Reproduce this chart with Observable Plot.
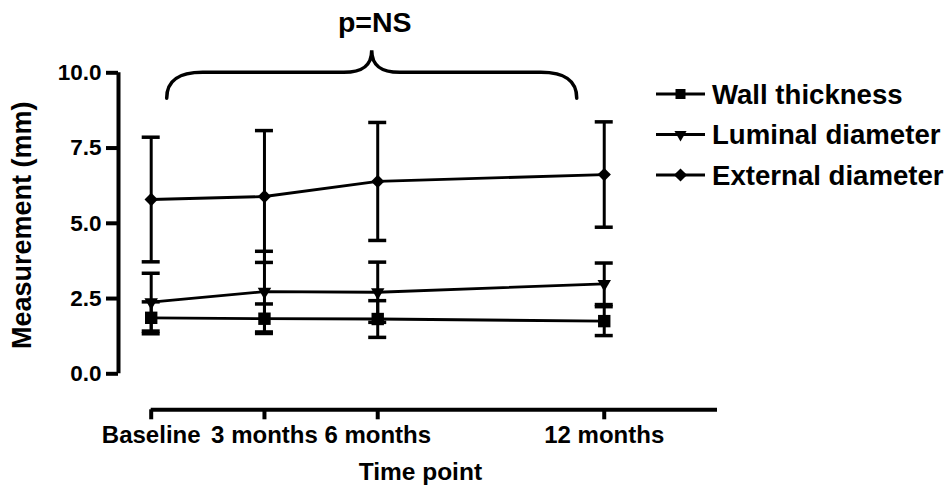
<!DOCTYPE html>
<html>
<head>
<meta charset="utf-8">
<script src="https://cdn.jsdelivr.net/npm/d3@7"></script>
<script src="https://cdn.jsdelivr.net/npm/@observablehq/plot@0.6"></script>
<style>
  html, body { margin: 0; padding: 0; background: #fff; }
  #chart { width: 948px; height: 497px; }
</style>
</head>
<body>
<div id="chart"></div>
<script>
// Follow-up measurements (mean ± SD), in mm
const timePoints = [0, 3, 6, 12];
const timeLabels = ["Baseline", "3 months", "6 months", "12 months"];
const yTicks = [0, 2.5, 5, 7.5, 10];

const seriesNames = ["Wall thickness", "Luminal diameter", "External diameter"];

const wallMean = [1.86, 1.83, 1.82, 1.75];
const wallSD = [0.53, 0.49, 0.61, 0.48];

const luminalMean = [2.38, 2.73, 2.71, 2.99];
const luminalSD = [0.96, 1.34, 1.00, 0.69];

const externalMean = [5.79, 5.89, 6.39, 6.62];
const externalSD = [2.07, 2.19, 1.96, 1.75];

const significance = "p=NS";

// Marker appearance per series
const markerStyle = {
  "Wall thickness": {symbol: "square", r: 7, rotate: 0, legend: d3.symbolSquare, legendSize: 100, legendRotate: 0},
  "Luminal diameter": {symbol: "triangle", r: 5, rotate: 180, legend: d3.symbolTriangle, legendSize: 64, legendRotate: 180},
  "External diameter": {symbol: "diamond2", r: 6, rotate: 0, legend: d3.symbolDiamond2, legendSize: 110, legendRotate: 0}
};

const means = [wallMean, luminalMean, externalMean];
const sds = [wallSD, luminalSD, externalSD];

const rows = seriesNames.flatMap((name, s) =>
  timePoints.map((t, i) => ({
    series: name,
    t,
    mean: means[s][i],
    lo: means[s][i] - sds[s][i],
    hi: means[s][i] + sds[s][i]
  }))
);

const font = "'Liberation Sans', Arial, sans-serif";
const axisShiftX = -32.7; // y axis sits left of the first time point
const axisShiftY = 36;    // x axis sits below the zero line

// Curly brace spanning the follow-up period, with the test result above it
function brace(index, scales, values, dimensions) {
  const x0 = scales.x(timePoints[0]) + 16;
  const x1 = scales.x(timePoints[timePoints.length - 1]) - 27;
  const mid = (x0 + x1) / 2;
  const top = scales.y(yTicks[yTicks.length - 1]);
  const foot = top + 26;
  const peak = top - 22;
  const p = d3.path();
  p.moveTo(x0, foot);
  p.bezierCurveTo(x0, top + 8, x0 + 12, top, x0 + 36, top);
  p.lineTo(mid - 28, top);
  p.bezierCurveTo(mid - 10, top, mid, top - 6, mid, peak);
  p.bezierCurveTo(mid, top - 6, mid + 10, top, mid + 28, top);
  p.lineTo(x1 - 36, top);
  p.bezierCurveTo(x1 - 12, top, x1, top + 8, x1, foot);
  const g = d3.create("svg:g");
  g.append("path")
    .attr("d", p.toString())
    .attr("fill", "none")
    .attr("stroke", "#000")
    .attr("stroke-width", 3.5)
    .attr("stroke-linecap", "round");
  g.append("text")
    .attr("x", mid + 3)
    .attr("y", 32)
    .attr("text-anchor", "middle")
    .attr("font-family", font)
    .attr("font-weight", "bold")
    .attr("font-size", 28.5)
    .attr("fill", "#000")
    .text(significance);
  return g.node();
}

// Line-and-marker legend to the upper right
function legend(index, scales, values, dimensions) {
  const {width} = dimensions;
  const g = d3.create("svg:g");
  seriesNames.forEach((name, i) => {
    const st = markerStyle[name];
    const y = 94 + 40.5 * i;
    const lx0 = width - 292, lx1 = width - 243;
    g.append("line")
      .attr("x1", lx0).attr("x2", lx1)
      .attr("y1", y).attr("y2", y)
      .attr("stroke", "#000").attr("stroke-width", 2.8);
    g.append("path")
      .attr("d", d3.symbol(st.legend, st.legendSize)())
      .attr("transform", `translate(${(lx0 + lx1) / 2},${y}) rotate(${st.legendRotate})`)
      .attr("fill", "#000");
    g.append("text")
      .attr("x", width - 236)
      .attr("y", y)
      .attr("dy", "0.36em")
      .attr("text-anchor", "start")
      .attr("font-family", font)
      .attr("font-weight", "bold")
      .attr("font-size", 27.6)
      .attr("fill", "#000")
      .text(name);
  });
  return g.node();
}

const chart = Plot.plot({
  width: 948,
  height: 497,
  marginLeft: 150.7,
  marginRight: 231,
  marginTop: 72.3,
  marginBottom: 123.7,
  x: {domain: [0, 15]},
  y: {domain: [0, 10]},
  style: {fontFamily: font, fontWeight: "bold", color: "#000", background: "#fff"},
  marks: [
    // axes
    Plot.ruleX([0], {y1: 0, y2: 10, dx: axisShiftX, strokeWidth: 4}),
    Plot.axisY({
      ticks: yTicks, tickFormat: d3.format(".1f"), tickSize: 12, tickPadding: 5,
      strokeWidth: 4, fontSize: 22.5, dx: axisShiftX, label: null
    }),
    Plot.ruleY([0], {x1: 0, x2: 15, dy: axisShiftY, strokeWidth: 4}),
    Plot.axisX({
      ticks: timePoints, tickFormat: (d) => timeLabels[timePoints.indexOf(d)],
      tickSize: 10, tickPadding: 6, strokeWidth: 4, fontSize: 24, dy: axisShiftY, label: null
    }),
    Plot.text(["Measurement (mm)"], {
      frameAnchor: "left", textAnchor: "middle", rotate: -90, dx: -128.5, dy: 2, fontSize: 27, fontWeight: "bold"
    }),
    Plot.text(["Time point"], {
      frameAnchor: "bottom", dx: -14, dy: 106, fontSize: 24.5, fontWeight: "bold"
    }),
    // error bars
    Plot.ruleX(rows, {x: "t", y1: "lo", y2: "hi", strokeWidth: 3}),
    Plot.ruleY(rows, {x1: "t", x2: "t", y: "hi", insetLeft: -9, insetRight: -9, strokeWidth: 3.5}),
    Plot.ruleY(rows, {x1: "t", x2: "t", y: "lo", insetLeft: -9, insetRight: -9, strokeWidth: 3.5}),
    // series lines and markers
    Plot.line(rows, {x: "t", y: "mean", z: "series", strokeWidth: 2.8}),
    ...seriesNames.map((name) => {
      const st = markerStyle[name];
      return Plot.dot(rows.filter((d) => d.series === name), {
        x: "t", y: "mean", symbol: st.symbol, r: st.r, rotate: st.rotate, fill: "#000", stroke: null
      });
    }),
    brace,
    legend
  ]
});

document.getElementById("chart").append(chart);
</script>
</body>
</html>
